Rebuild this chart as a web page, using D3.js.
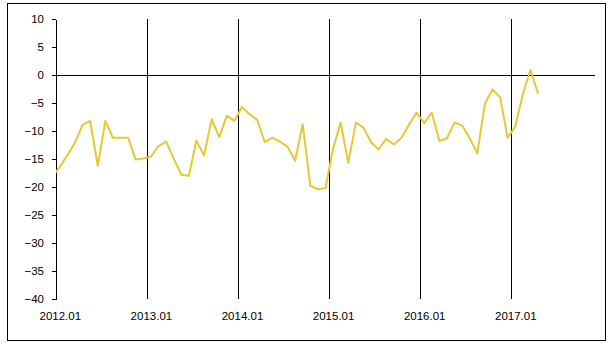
<!DOCTYPE html>
<html>
<head>
<meta charset="utf-8">
<script src="https://cdn.jsdelivr.net/npm/d3@7"></script>
<style>
  html, body { margin: 0; padding: 0; background: #fff; }
  svg { display: block; }
  text { font-family: "Liberation Sans", Arial, sans-serif; }
</style>
</head>
<body>
<svg id="chart" width="613" height="353"></svg>
<script>
// ---- data ----
// monthly series, starting at 2011.12 (first point lies just left of the plot area and is clipped)
const startYear = 2011, startMonth = 12;
const values = [
  -18.2,
  -16.4, -14.3, -12.1, -8.9, -8.2, -16.2, -8.2, -11.2, -11.2, -11.2, -15.1, -14.9,
  -14.6, -12.7, -11.9, -14.9, -17.8, -18.0, -11.7, -14.4, -7.9, -11.1, -7.3, -8.2,
  -5.7, -7.0, -8.0, -12.0, -11.2, -11.9, -12.8, -15.3, -8.8, -19.8, -20.4, -20.2,
  -13.1, -8.5, -15.7, -8.5, -9.4, -12.0, -13.3, -11.4, -12.4, -11.2, -8.9, -6.7,
  -8.6, -6.7, -11.8, -11.3, -8.5, -9.0, -11.3, -14.0, -5.1, -2.6, -4.0, -11.2,
  -9.2, -3.4, 0.9, -3.3
];
const categories = values.map((v, i) => {
  const t = (startYear * 12 + (startMonth - 1)) + i;
  const y = Math.floor(t / 12), m = (t % 12) + 1;
  return y + "." + String(m).padStart(2, "0");
});
const xTickLabels = ["2012.01", "2013.01", "2014.01", "2015.01", "2016.01", "2017.01"];
const yTicks = [10, 5, 0, -5, -10, -15, -20, -25, -30, -35, -40];
const axisFirst = "2012.01", axisLast = "2017.11";

// ---- layout ----
const svg = d3.select("#chart");
const L = 56, R = 595, T = 19, B = 299;
const monthNum = c => { const [yy, mm] = c.split(".").map(Number); return yy * 12 + mm - 1; };
const idx = c => monthNum(c) - monthNum(axisFirst);
const nCats = idx(axisLast) + 1;

const x = d3.scaleLinear().domain([-0.5, nCats - 0.5]).range([L, R]);
const y = d3.scaleLinear().domain([-40, 10]).range([B, T]);

// outer border
svg.append("rect").attr("x", 7.5).attr("y", 3.5).attr("width", 598).attr("height", 337)
  .attr("fill", "none").attr("stroke", "#000").attr("stroke-width", 1);

// vertical year gridlines (at category boundaries before each January)
const boundaries = xTickLabels.slice(1).map(c => idx(c) - 0.5);
svg.append("g")
  .attr("transform", `translate(0,${B})`)
  .call(d3.axisBottom(x).tickValues(boundaries).tickSize(-(B - T)).tickFormat(""))
  .call(g => g.select(".domain").remove())
  .call(g => g.selectAll("line").attr("stroke", "#000").attr("shape-rendering", "crispEdges"));

// x labels centered on January categories
svg.append("g")
  .attr("transform", `translate(0,${B})`)
  .attr("font-size", "11.5px")
  .attr("font-family", "Liberation Sans, Arial, sans-serif")
  .call(d3.axisBottom(x).tickValues(xTickLabels.map(idx)).tickSize(0).tickPadding(13)
    .tickFormat(d => xTickLabels.find(c => idx(c) === d)))
  .call(g => g.attr("font-size", "11.5px").attr("font-family", "Liberation Sans, Arial, sans-serif"))
  .call(g => g.select(".domain").remove())
  .call(g => g.selectAll("text").attr("fill", "#000"));

// y axis
svg.append("g")
  .attr("transform", `translate(${L},0)`)
  .call(d3.axisLeft(y).tickValues(yTicks).tickSize(4).tickPadding(8).tickSizeOuter(0).tickFormat(d3.format("d")))
  .call(g => g.attr("font-size", "11.5px").attr("font-family", "Liberation Sans, Arial, sans-serif"))
  .call(g => g.select(".domain").attr("stroke", "#000").attr("shape-rendering", "crispEdges"))
  .call(g => g.selectAll("line").attr("stroke", "#000").attr("shape-rendering", "crispEdges"))
  .call(g => g.selectAll("text").attr("fill", "#000"));

// zero line (horizontal axis)
svg.append("line")
  .attr("x1", L).attr("x2", R).attr("y1", y(0)).attr("y2", y(0))
  .attr("stroke", "#000").attr("shape-rendering", "crispEdges");

// clip to plot area
svg.append("clipPath").attr("id", "plotclip")
  .append("rect").attr("x", L).attr("y", 0).attr("width", R - L).attr("height", 353);

const line = d3.line()
  .x((d, i) => x(idx(categories[i])))
  .y(d => y(d));

svg.append("path")
  .datum(values)
  .attr("clip-path", "url(#plotclip)")
  .attr("fill", "none")
  .attr("stroke", "#E4C934")
  .attr("stroke-width", 2)
  .attr("stroke-linejoin", "round")
  .attr("d", line);
</script>
</body>
</html>
